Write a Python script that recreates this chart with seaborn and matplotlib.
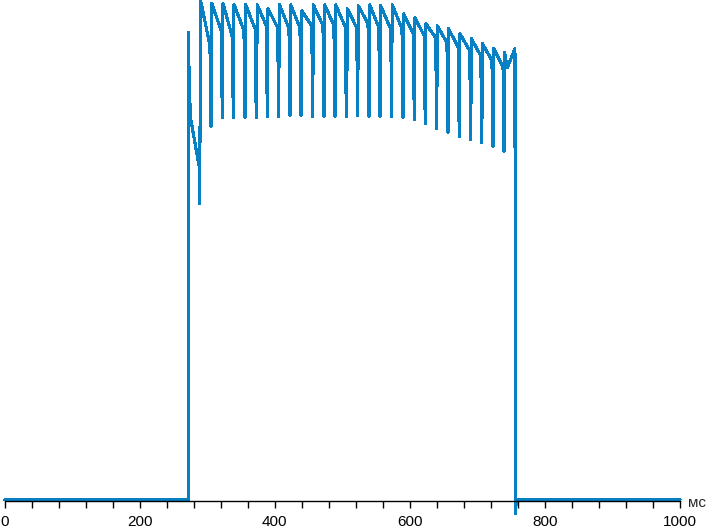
import matplotlib
matplotlib.use("Agg")
import matplotlib.pyplot as plt
import pandas as pd
import seaborn as sns
from matplotlib.ticker import MultipleLocator

# Brightness vs time (ms, % of max)

# switch-on: baseline, first spike and first full cycle peak
lead_t = [0, 271.9, 272.1, 273.0, 273.6, 274.6, 288.2, 288.7, 290.2]
lead_v = [0, 0, 93.7, 80.0, 86.6, 77.0, 66.6, 59.4, 100.0]

# one entry per 60 Hz dip
dip_t = [305.5, 322.2, 338.5, 355.8, 372.9, 388.9, 405.7, 422.5, 438.8,
         456.1, 472.8, 489.1, 506.4, 522.7, 539.5, 555.7, 572.8, 589.8,
         606.4, 622.7, 639.7, 656.4, 673.2, 690.1, 706.5, 723.1, 739.4]
pre_dip = [91.0, 94.0, 92.8, 94.0, 94.2, 95.0, 94.6, 94.4, 94.6,
           95.0, 95.0, 95.0, 94.6, 94.6, 95.4, 94.6, 94.4, 94.4,
           93.4, 93.0, 92.6, 91.6, 90.6, 90.0, 89.0, 88.0, 86.8]
shallow = [81.0, None, None, 88.0, 79.8, 81.6, None, 83.0, 77.4,
           89.4, None, 81.4, 81.4, None, 87.4, 77.6, 88.0, None,
           80.4, None, None, 84.6, 76.0, None, None, 76.4, None]
deep = [74.8, 76.6, 76.6, 76.6, 76.6, 76.8, 76.8, 77.0, 77.0,
        76.8, 76.8, 76.8, 76.8, 77.0, 76.8, 76.8, 76.8, 76.6,
        76.2, 75.4, 74.4, 73.6, 72.8, 72.2, 71.6, 70.8, 69.8]
peak = [99.5, 99.5, 99.3, 99.2, 99.2, 98.4, 99.3, 99.2, 98.0,
        99.2, 99.2, 99.2, 98.4, 99.0, 99.2, 99.0, 99.2, 97.4,
        96.6, 95.4, 95.0, 94.4, 93.4, 92.4, 91.4, 90.4, 89.6]

# switch-off
tail_t = [744.2, 755.6, 756.2, 757.8, 1000]
tail_v = [86.6, 90.4, -2.7, 0, 0]


def build_trace():
    t, v = list(lead_t), list(lead_v)
    for ti, pre, sh, dp, pk in zip(dip_t, pre_dip, shallow, deep, peak):
        t.append(ti - 1.5)
        v.append(pre)
        if sh is not None:
            t += [ti - 1.0, ti - 0.6]
            v += [sh, pre]
        t += [ti, ti + 1.0]
        v += [dp, pk]
    t += tail_t
    v += tail_v
    return pd.DataFrame({'t': t, 'v': v})


def main():
    sns.set_style('white')
    plt.rcParams['font.family'] = ['Liberation Sans', 'DejaVu Sans']

    df = build_trace()

    fig = plt.figure(figsize=(7.07, 5.29), dpi=100)
    ax = fig.add_axes([4.7 / 707, 1 - 501.2 / 529, 675.3 / 707, 501.2 / 529])

    sns.lineplot(data=df, x='t', y='v', sort=False, estimator=None,
                 color='#0880c4', lw=1.5, antialiased=False, ax=ax)
    ax.lines[0].set_clip_on(False)

    ax.set_xlim(0, 1000)
    ax.set_ylim(-0.28, 100.16)
    ax.set_yticks([])
    ax.set_xlabel('')
    ax.set_ylabel('')

    for side in ['top', 'left', 'right']:
        ax.spines[side].set_visible(False)
    ax.spines['bottom'].set_color('black')
    ax.spines['bottom'].set_linewidth(1)

    ax.xaxis.set_major_locator(MultipleLocator(200))
    ax.xaxis.set_minor_locator(MultipleLocator(40))
    ax.tick_params(axis='x', which='both', direction='out', length=5,
                   width=1, color='black', bottom=True)
    ax.tick_params(axis='x', which='major', labelsize=11, pad=5,
                   labelcolor='black')

    fig.text(688 / 707, 1 - 503 / 529, 'мс', fontsize=11, va='center',
             ha='left')

    fig.savefig('out.png', dpi=100, facecolor='white')


if __name__ == "__main__":
    main()
